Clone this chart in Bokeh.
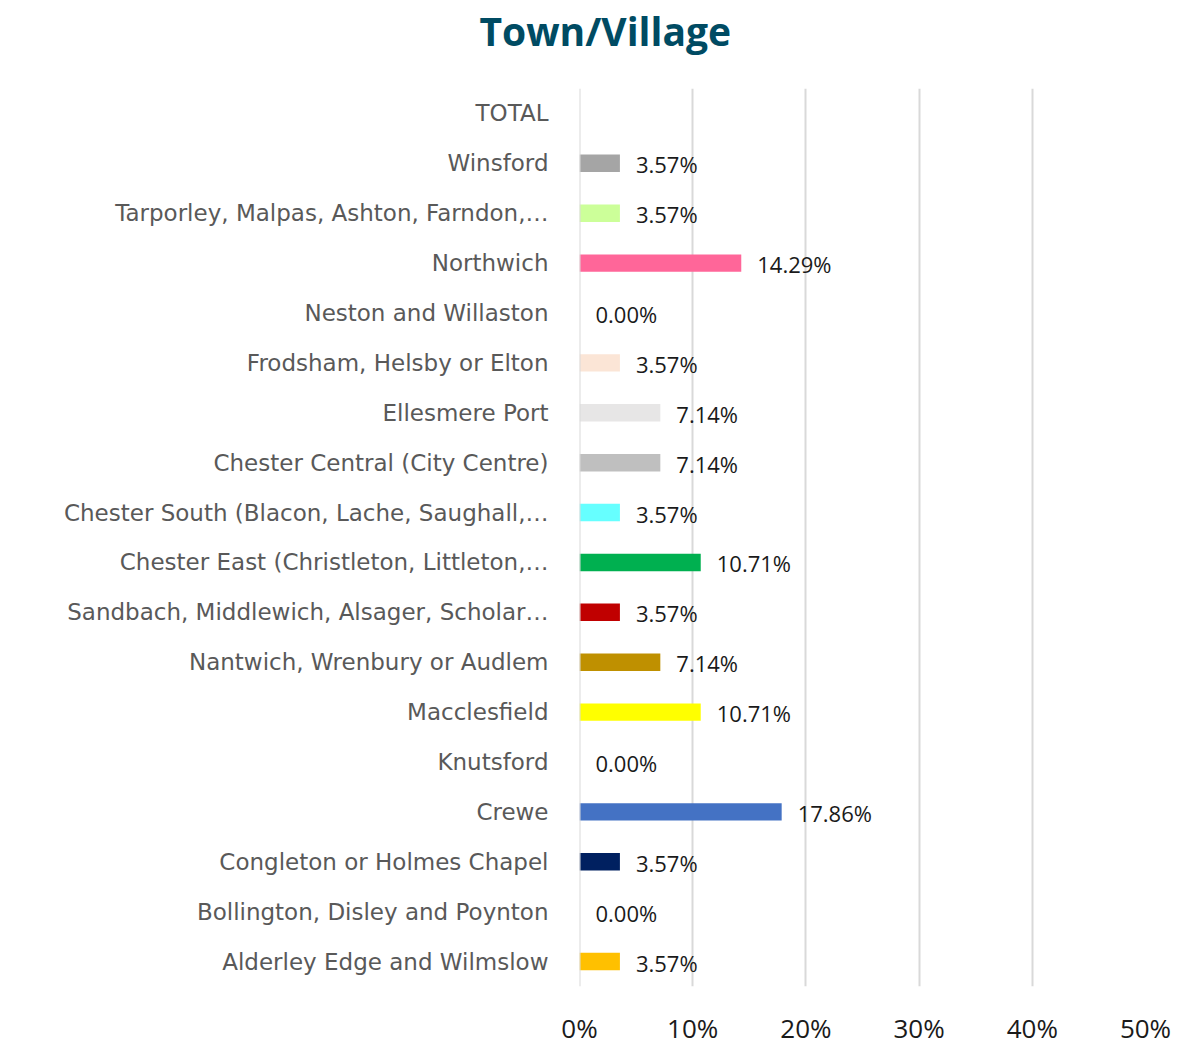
from bokeh.plotting import figure
from bokeh.models import (ColumnDataSource, LabelSet, FactorRange, Range1d, NumeralTickFormatter,
                          FixedTicker, Span, Title, LinearAxis)
from bokeh.core.properties import value
from bokeh.embed import file_html
from bokeh.resources import INLINE

categories = [
    "Alderley Edge and Wilmslow",
    "Bollington, Disley and Poynton",
    "Congleton or Holmes Chapel",
    "Crewe",
    "Knutsford",
    "Macclesfield",
    "Nantwich, Wrenbury or Audlem",
    "Sandbach, Middlewich, Alsager, Scholar…",
    "Chester East (Christleton, Littleton,…",
    "Chester South (Blacon, Lache, Saughall,…",
    "Chester Central (City Centre)",
    "Ellesmere Port",
    "Frodsham, Helsby or Elton",
    "Neston and Willaston",
    "Northwich",
    "Tarporley, Malpas, Ashton, Farndon,…",
    "Winsford",
    "TOTAL",
]
values = [3.57, 0.00, 3.57, 17.86, 0.00, 10.71, 7.14, 3.57, 10.71, 3.57,
          7.14, 7.14, 3.57, 0.00, 14.29, 3.57, 3.57, None]
colors = ["#FFC000", "#FFFFFF", "#002060", "#4472C4", "#FFFFFF", "#FFFF00",
          "#BF9000", "#C00000", "#00B050", "#66FFFF", "#BFBFBF", "#E7E6E6",
          "#FBE5D6", "#FFFFFF", "#FF6699", "#CCFF99", "#A5A5A5", "#FFFFFF"]
x_ticks = [0, 10, 20, 30, 40, 50]

bar_vals = [v if v is not None else 0 for v in values]
val_text = [f"{v:.2f}%" if v is not None else "" for v in values]

src = ColumnDataSource(dict(cat=categories, val=bar_vals, txt=val_text, color=colors))

p = figure(width=1185, height=1048, y_range=FactorRange(*categories),
           x_range=Range1d(0, 50), output_backend="svg", toolbar_location=None,
           min_border_left=579, min_border_right=40, min_border_top=88,
           min_border_bottom=50)
p.outline_line_color = None
p.background_fill_color = "white"

# invisible spacer axis between the title and the plot area
spacer = LinearAxis(ticker=FixedTicker(ticks=[25]), axis_line_color=None,
                    major_tick_out=32, major_tick_in=0, minor_tick_out=0,
                    major_label_standoff=0, major_tick_line_color=None,
                    major_label_overrides={25: ""}, major_label_text_font_size="1px",
                    major_label_text_color=None)
p.add_layout(spacer, "above")

title = Title(text="Town/Village", align="left", offset=-100, standoff=0,
              text_font="Open Sans", text_font_style="bold", text_font_size="39px",
              text_color="#004B63")
p.add_layout(title, "above")

p.xgrid.grid_line_color = "#d9d9d9"
p.xgrid.grid_line_width = 2
p.add_layout(Span(location=0, dimension="height", line_color="#d9d9d9", line_width=2))

p.hbar(y="cat", right="val", left=0, height=0.35, color="color", source=src,
       line_color=None)

p.add_layout(LabelSet(x="val", y="cat", text="txt", source=src, x_offset=16,
                      y_offset=-1, text_font=value("Open Sans"), text_font_size="22px",
                      text_color="#1a1a1a", text_baseline="middle"))

p.yaxis.axis_line_color = None
p.yaxis.major_tick_line_color = None
p.yaxis.major_tick_out = 0
p.yaxis.major_tick_in = 0
p.yaxis.major_label_standoff = 31
p.yaxis.major_label_text_font = "DejaVu Sans"
p.yaxis.major_label_text_font_size = "23px"
p.yaxis.major_label_text_color = "#595959"
p.ygrid.grid_line_color = None

xa = p.below[0]
xa.ticker = FixedTicker(ticks=x_ticks)
xa.formatter = NumeralTickFormatter(format="0")
xa.major_label_overrides = {t: f"{t}%" for t in x_ticks}
xa.axis_line_color = None
xa.major_tick_line_color = None
xa.minor_tick_line_color = None
xa.major_tick_out = 0
xa.major_tick_in = 0
xa.major_label_standoff = 23
xa.major_label_text_font = "Open Sans"
xa.major_label_text_font_size = "26px"
xa.major_label_text_color = "#1a1a1a"

open("out.html", "w").write(file_html(p, INLINE))
